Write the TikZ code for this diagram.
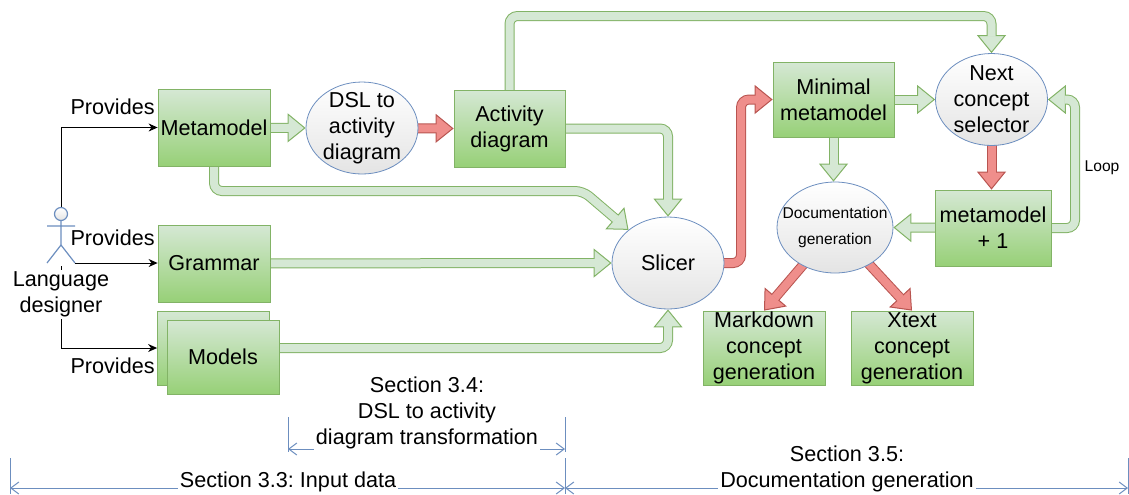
\documentclass[tikz,border=0pt]{standalone}
\usepackage{fontspec}
\setmainfont{Liberation Sans}
\usepackage{tikz}
\usetikzlibrary{arrows.meta,shapes.geometric,backgrounds}

\definecolor{boxtop}{HTML}{D5E8D4}
\definecolor{boxbot}{HTML}{97D077}
\definecolor{boxline}{HTML}{82B366}
\definecolor{ellline}{HTML}{6C8EBF}
\definecolor{ovalbot}{HTML}{E4E4E4}
\definecolor{redline}{HTML}{B85450}
\definecolor{redfill}{HTML}{EF8E8B}

\newcommand{\mainsize}{\fontsize{10.8}{13}\selectfont}
\newcommand{\smallsize}{\fontsize{7.8}{13}\selectfont}
\frenchspacing

\begin{document}
\begin{tikzpicture}[x=0.5pt,y=-0.5pt]
            \tikzstyle{every node}=[font=\mainsize, align=center, inner sep=1pt];
            \tikzstyle{box}=[draw=boxline, top color=boxtop, bottom color=boxbot, inner ysep=0pt, minimum width=56pt, minimum height=38.5pt];
            \tikzstyle{oval}=[ellipse, draw=ellline, top color=white, bottom color=ovalbot, inner xsep=0pt, inner ysep=-2.5pt, minimum width=56pt, minimum height=46pt];
            \tikzstyle{garrow}=[draw=boxline, line width=5pt, rounded corners=4pt, -{Triangle[length=9pt, width=14.5pt, line width=0.5pt, fill=boxtop]}, postaction={draw=boxtop, line width=4pt, -, shorten >=8.3pt}];
            \tikzstyle{rarrow}=[draw=redline, line width=5pt, rounded corners=4pt, -{Triangle[length=9pt, width=14.5pt, line width=0.5pt, fill=redfill]}, postaction={draw=redfill, line width=4pt, -, shorten >=8.3pt}];
            \tikzstyle{provide}=[draw=black, line width=0.5pt, -{Stealth[length=4.5pt, width=4pt]}];
            \tikzstyle{dim}=[draw=ellline, line width=0.5pt, {Straight Barb[length=4pt, width=6pt]}-{Straight Barb[length=4pt, width=6pt]}];
            \tikzstyle{dimtick}=[draw=ellline, line width=0.5pt];
            \useasboundingbox (0,0) rectangle (1129,494);

            % input side
            \node[box] (meta) at (214,127.5) {Metamodel};
            \node[oval] (dsl) at (362,128) {DSL to\\activity\\diagram};
            \node[box, minimum width=55.5pt] (act) at (509.5,128.5) {Activity\\diagram};
            \node[box] (gram) at (214,263.5) {Grammar};
            \node[box, minimum height=37pt] (modelsB) at (213.5,348) {};
            \node[box, minimum height=37pt] (modelsF) at (223,357) {Models};
            \node[oval] (slicer) at (668,263) {Slicer};

            % documentation side
            \node[box, minimum width=60.5pt, minimum height=37.5pt] (minmeta) at (833.5,99.5) {Minimal\\metamodel};
            \node[oval] (next) at (991.5,99.5) {Next\\concept\\selector};
            \node[box, minimum width=58pt, minimum height=38pt] (meta1) at (993,228) {metamodel\\+ 1};
            \node[oval, font=\smallsize, inner xsep=-6pt, minimum width=58pt, minimum height=45.5pt] (doc) at (835,227.5) {Documentation\\generation};
            \node[box, minimum width=61pt, minimum height=37pt] (md) at (764,348) {Markdown\\concept\\generation};
            \node[box, minimum width=61pt, minimum height=37pt] (xt) at (912,348) {Xtext\\concept\\generation};

            % language designer
            \draw[ellline, line width=0.6pt, top color=white, bottom color=ovalbot] (61,214) circle (6.5);
            \draw[ellline, line width=0.6pt] (61,220.5) -- (61,245) (47,226) -- (75,226) (47,263) -- (61,245) -- (75,263);
            \coordinate (head) at (61,207.5);
            \coordinate (footR) at (75,263);
            \coordinate (foot) at (61,266);

            \node[anchor=east] (prov1) at (157,107) {Provides};
            \node[anchor=east] (prov2) at (157,238) {Provides};
            \node[anchor=east] (prov3) at (157,366) {Provides};
            \node[fill=white] (designer) at (61,294.5) {Language\\designer};
            \node[font=\smallsize] (loop) at (1102,168) {Loop};
            \node[fill=white] (sec34) at (427,413) {Section 3.4:\\DSL to activity\\diagram transformation};
            \node[fill=white] (sec33) at (288,482) {Section 3.3: Input data};
            \node[fill=white] (sec35) at (847,469) {Section 3.5:\\Documentation generation};

            \begin{scope}[on background layer]
            \draw[provide] (head) |- (meta.west);
            \draw[provide] (footR) -- (footR -| gram.west);
            \draw[provide] (foot) |- (modelsB.west);

            \draw[garrow] (meta.center) -- (dsl.west);
            \draw[rarrow] (dsl.center) -- (act.west);
            \draw[garrow] (act.center) -- (act.center |- 0,16) -| (next.north);
            \draw[garrow] (meta.center) -- (meta.center |- 0,191) -- (583,191) -- (slicer.140);
            \draw[garrow] (act.center) -| (slicer.north);
            \draw[garrow] (gram.center) -- (slicer.west);
            \draw[garrow] (modelsB.center) -| (slicer.south);
            \draw[rarrow] (slicer.center) -- ++(73,0) |- (minmeta.west);
            \draw[garrow] (minmeta.center) -- (next.west);
            \draw[garrow] (minmeta.center) -- (minmeta.center |- doc.north);
            \draw[rarrow] (next.center) -- (next.center |- meta1.north);
            \draw[garrow] (meta1.center) -- (doc.east);
            \draw[garrow] (meta1.center) -- ++(82,0) |- (next.east);
            \draw[rarrow] (doc.center) -- (md.north);
            \draw[rarrow] (doc.center) -- (xt.north);

            % sections
            \draw[dimtick] (288,417) -- (288,452) (565,417) -- (565,452) (10,458) -- (10,494) (565,458) -- (565,494) (1128,458) -- (1128,494);
            \draw[dim] (288,449) -- (565,449);
            \draw[dim] (10,488) -- (565,488);
            \draw[dim] (565,488) -- (1128,488);
            \end{scope}
        \end{tikzpicture}
\end{document}
